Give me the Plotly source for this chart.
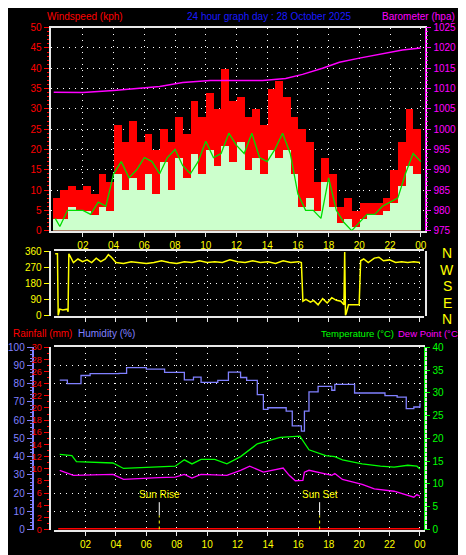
import plotly.graph_objects as go

# ---------------- data ----------------
hours_tick = [2, 4, 6, 8, 10, 12, 14, 16, 18, 20, 22, 24]
hour_labels = ["02", "04", "06", "08", "10", "12", "14", "16", "18", "20", "22", "00"]

wind_t = [i * 0.5 + 0.25 for i in range(48)]
gust = [8, 10, 11, 10, 11, 9, 14, 12, 26, 22, 27, 22, 24, 20, 25, 22, 28, 24, 32, 28, 34, 30, 40, 32,
        33, 28, 30, 26, 35, 37, 33, 28, 25, 22, 12, 18, 14, 6, 8, 5, 7, 7, 7, 8, 15, 22, 30, 25]
speed = [3, 3, 6, 5, 5, 4, 6, 5, 14, 10, 13, 10, 14, 9, 17, 10, 18, 13, 19, 14, 20, 16, 21, 17,
         22, 15, 18, 14, 20, 18, 20, 14, 6, 8, 5, 12, 6, 2, 3, 1, 3, 4, 4, 5, 7, 11, 16, 14]
avg_t = [0.2, 0.5, 1.0, 1.5, 2.0, 2.5, 3.0, 3.5, 4.0, 4.5, 5.0, 5.5, 6.0, 6.5, 7.0, 7.5, 8.0, 8.5, 9.0, 9.5,
         10.0, 10.5, 11.0, 11.5, 12.0, 12.5, 13.0, 13.5, 14.0, 14.5, 15.0, 15.5, 16.0, 16.5, 17.0, 17.5,
         18.0, 18.5, 19.0, 19.5, 20.0, 20.5, 21.0, 21.5, 22.0, 22.5, 23.0, 23.5, 24.0]
avg = [3, 1, 5, 5, 5, 4, 7, 6, 14, 17, 13, 15, 18, 17, 14, 18, 20, 16, 14, 17, 22, 18, 19, 24,
       21, 19, 24, 18, 17, 20, 24, 19, 9, 5, 5, 3, 13, 5, 2, 0, 2, 4, 4, 6, 7, 8, 14, 19, 17]

baro_t = [0.1, 2.0, 4.0, 7.0, 8.5, 10.3, 12.4, 13.7, 15.2, 16.3, 17.6, 18.7, 20.0, 21.3, 22.8, 24.0]
baro = [1009.1, 1009.0, 1009.5, 1010.5, 1011.5, 1012.0, 1012.0, 1012.0, 1012.5, 1013.5, 1015.0, 1016.5,
        1017.5, 1018.5, 1019.5, 1020.0]

dir_t = [0.0, 0.15, 0.2, 0.3, 0.5, 0.8, 0.85, 0.9, 1.2, 1.5, 1.8, 2.1, 2.4, 2.7, 3.0, 3.3, 3.5, 3.7, 4.0, 4.5,
         5.0, 5.5, 6.0, 6.5, 7.0, 7.5, 8.0, 8.5, 9.0, 9.5, 10.0, 10.5, 11.0, 11.5, 12.0, 12.5, 13.0, 13.5,
         14.0, 14.5, 15.0, 15.5, 16.0, 16.2, 16.25, 16.3, 16.5, 16.8, 17.0, 17.3, 17.6, 17.9, 18.2, 18.5,
         18.8, 19.0, 19.05, 19.1, 19.15, 19.3, 19.6, 20.0, 20.1, 20.3, 20.6, 21.0, 21.3, 21.6, 22.0, 22.4,
         22.8, 23.2, 23.6, 24.0]
direction = [350, 350, 0, 35, 30, 35, 20, 350, 300, 320, 305, 315, 300, 325, 305, 320, 345, 330, 300, 295,
             305, 300, 295, 300, 310, 300, 295, 305, 300, 310, 300, 305, 300, 315, 305, 300, 310, 300,
             305, 295, 310, 300, 305, 300, 160, 80, 90, 75, 85, 60, 95, 70, 100, 85,
             80, 60, 360, 0, 10, 60, 60, 60, 310, 320, 300, 325, 330, 310, 315, 300,
             305, 300, 305, 300]

hum_t = [0.3, 0.8, 1.7, 2.3, 4.2, 4.7, 6.0, 7.2, 8.5, 9.1, 9.6, 10.7, 11.4, 12.2, 12.6, 13.3, 13.7, 14.0,
         15.2, 15.6, 16.2, 16.4, 16.7, 17.3, 18.2, 18.4, 19.7, 20.8, 21.7, 22.5, 23.1, 23.6, 24.0]
humidity = [82, 80, 84.5, 85.5, 85.7, 88.8, 88, 86.2, 82.1, 83.6, 80.7, 81.8, 86.3, 83.4, 81.8, 74, 65.9, 66.8,
            65, 56.9, 54, 65, 75.5, 78.5, 76.4, 79.6, 74.9, 74.9, 73.5, 72.6, 66.3, 67.2, 69.3]

temp_t = [0.3, 1.1, 1.4, 3.8, 4.5, 7.9, 8.5, 9.0, 9.6, 10.5, 11.3, 12.2, 13.3, 14.1, 14.8, 16.1, 16.3, 16.7,
          17.8, 18.4, 18.9, 20.2, 21.4, 22.3, 23.2, 23.8, 24.0]
temperature = [16.5, 16.2, 14.9, 14.6, 13.4, 13.9, 15.3, 14.4, 15.4, 15.4, 14.4, 16.0, 18.8, 19.6, 20.2, 20.5,
               19.5, 17.5, 16.2, 16.0, 15.3, 14.4, 13.9, 13.7, 14.1, 13.9, 13.3]

dew_t = [0.3, 1.2, 3.8, 4.5, 6.8, 7.9, 8.5, 9.0, 9.6, 11.3, 12.2, 12.8, 13.7, 14.4, 15.0, 15.4, 15.8, 16.3,
         16.4, 16.7, 17.6, 18.2, 18.4, 18.9, 20.2, 21.0, 22.3, 23.2, 23.6, 23.8, 24.0]
dewpoint = [13, 11.9, 12.1, 11, 11.4, 11.5, 12.1, 11.3, 12.1, 11.9, 13, 13.9, 12.6, 13, 13.5, 11.9, 10.7, 10.8,
            12.6, 13, 12.4, 11.9, 12.3, 11, 9.9, 8.9, 8.4, 7.6, 7.1, 7.7, 7.3]

rain_t = [0.2, 24.0]
rain = [0, 0]

sun_rise = 6.85
sun_set = 17.4

# ---------------- figure ----------------
FONT = "Liberation Sans"
GRID = dict(showgrid=True, gridcolor="#ffffff", griddash="1px,5px", gridwidth=1)
XR = [-0.1, 24.3]

fig = go.Figure()
fig.add_trace(go.Bar(x=wind_t, y=gust, width=0.5, marker=dict(color="#ff0000", line_width=0),
                     xaxis="x", yaxis="y"))
fig.add_trace(go.Bar(x=wind_t, y=speed, width=0.5, marker=dict(color="#ccffcc", line_width=0),
                     xaxis="x", yaxis="y"))
fig.add_trace(go.Scatter(x=avg_t, y=avg, mode="lines", line=dict(color="#00dd00", width=1.3),
                         xaxis="x", yaxis="y"))
fig.add_trace(go.Scatter(x=baro_t, y=baro, mode="lines", line=dict(color="#ff00ff", width=1.5),
                         xaxis="x", yaxis="y2"))
fig.add_trace(go.Scatter(x=dir_t, y=direction, mode="lines", line=dict(color="#ffff00", width=1.5),
                         xaxis="x2", yaxis="y3"))
fig.add_trace(go.Scatter(x=rain_t, y=rain, mode="lines", line=dict(color="#ff0000", width=3),
                         xaxis="x3", yaxis="y4"))
fig.add_trace(go.Scatter(x=hum_t, y=humidity, mode="lines", line=dict(color="#8080ff", width=1.3, shape="hv"),
                         xaxis="x3", yaxis="y5"))
fig.add_trace(go.Scatter(x=temp_t, y=temperature, mode="lines", line=dict(color="#00ff00", width=1.3),
                         xaxis="x3", yaxis="y6"))
fig.add_trace(go.Scatter(x=dew_t, y=dewpoint, mode="lines", line=dict(color="#ff00ff", width=1.3),
                         xaxis="x3", yaxis="y6"))

frame = dict(showline=True, linecolor="#e8e8e8", linewidth=2, mirror=True, zeroline=False)
xcommon = dict(range=XR, tickvals=hours_tick, ticktext=hour_labels, ticks="outside", tickcolor="#e8e8e8",
               ticklen=4, tickfont=dict(color="#ffff00", size=10, family=FONT), **GRID, **frame)

fig.update_layout(
    width=466, height=555, margin=dict(l=0, r=0, t=0, b=0),
    paper_bgcolor="#000000", plot_bgcolor="#000000", showlegend=False,
    barmode="overlay", bargap=0,
    xaxis=dict(domain=[0.0858, 0.897], anchor="y", **xcommon),
    yaxis=dict(domain=[0.6, 0.973], range=[0, 50], dtick=5, ticks="outside", tickcolor="#ff0000",
               tickfont=dict(color="#ff0000", size=10, family=FONT), **GRID, **frame,
               minor=dict(ticks="outside", dtick=1, ticklen=2, tickcolor="#ff0000")),
    yaxis2=dict(overlaying="y", side="right", anchor="x", range=[975, 1025], dtick=5, showgrid=False,
                ticks="outside", tickcolor="#ff00ff", showline=True, linecolor="#ff00ff", linewidth=1,
                tickfont=dict(color="#ff00ff", size=10, family=FONT), zeroline=False,
                minor=dict(ticks="outside", dtick=1, ticklen=2, tickcolor="#ff00ff")),
    xaxis2=dict(domain=[0.0923, 0.895], anchor="y3", **{**xcommon, "showticklabels": False}),
    yaxis3=dict(domain=[0.443, 0.562], range=[-4, 364], tickvals=[0, 90, 180, 270, 360], ticks="outside",
                tickcolor="#ffff00", tickfont=dict(color="#ffff00", size=10, family=FONT), **GRID, **frame),
    xaxis3=dict(domain=[0.0923, 0.895], anchor="y4", **xcommon),
    yaxis4=dict(domain=[0.0505, 0.3856], range=[0, 30], dtick=2, ticks="outside", tickcolor="#ff0000",
                tickfont=dict(color="#ff0000", size=9, family=FONT), showgrid=False, showline=True,
                linecolor="#e8e8e8", linewidth=2, mirror=True, zeroline=False,
                minor=dict(ticks="outside", dtick=1, ticklen=2, tickcolor="#ff0000")),
    yaxis5=dict(overlaying="y4", anchor="free", position=0.047, side="left", range=[0, 100], dtick=10,
                ticks="outside", tickcolor="#8080ff", showline=True, linecolor="#8080ff", linewidth=2,
                tickfont=dict(color="#8080ff", size=10, family=FONT), zeroline=False, **GRID,
                minor=dict(ticks="outside", dtick=2, ticklen=2, tickcolor="#8080ff")),
    yaxis6=dict(overlaying="y4", side="right", anchor="x3", range=[0, 40], dtick=5, showgrid=False,
                ticks="outside", tickcolor="#00ff00", showline=True, linecolor="#00ff00", linewidth=1,
                tickfont=dict(color="#00ff00", size=10, family=FONT), zeroline=False,
                minor=dict(ticks="outside", dtick=1, ticklen=2, tickcolor="#00ff00")),
)

def label(text, x, y, color, size=10, xanchor="left"):
    fig.add_annotation(text=text, x=x / 466, y=1 - y / 555, xref="paper", yref="paper", showarrow=False,
                       xanchor=xanchor, yanchor="middle", font=dict(color=color, size=size, family=FONT))

label("Windspeed (kph)", 34, 4, "#ff0000")
label("24 hour graph day : 28 October 2025", 260, 4, "#1a1aff", xanchor="center")
label("Barometer (hpa)", 372, 4, "#ff00ff")
label("Rainfall (mm)", 0, 327, "#ff0000")
label("Humidity (%)", 66, 327, "#8080ff")
label("Temperature (°C)", 311, 327, "#00ff00", size=9.5)
label("Dew Point (°C)", 388, 327, "#ff00ff", size=9.5)
for txt, yy in zip(["N", "W", "S", "E", "N"], [245, 262, 279, 296, 312]):
    label(txt, 440, yy, "#ffff00", size=14, xanchor="center")

for t, name in [(sun_rise, "Sun Rise"), (sun_set, "Sun Set")]:
    fig.add_annotation(text=name, x=t, y=4.6, xref="x3", yref="y4", showarrow=False, yanchor="bottom",
                       font=dict(color="#ffff00", size=10, family=FONT))
    fig.add_shape(type="line", x0=t, x1=t, y0=2.3, y1=4.5, xref="x3", yref="y4",
                  line=dict(color="#ffffff", width=1))
    fig.add_shape(type="line", x0=t, x1=t, y0=0, y1=2.3, xref="x3", yref="y4",
                  line=dict(color="#ffff00", width=1, dash="dot"))

fig.write_html("out.html")
